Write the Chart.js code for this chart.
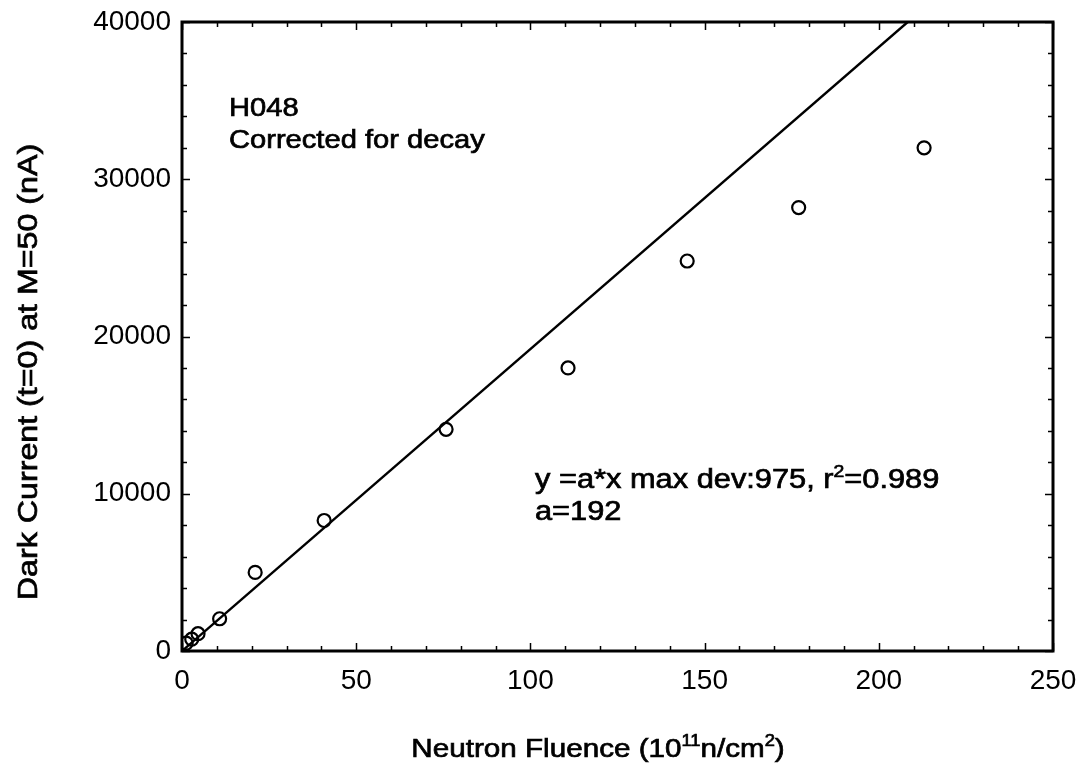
<!DOCTYPE html>
<html><head><meta charset="utf-8">
<script src="https://cdn.jsdelivr.net/npm/chart.js@4"></script>
<style>html,body{margin:0;padding:0;background:#fff;}</style>
</head><body>
<canvas id="c" width="1089" height="778" style="display:block"></canvas>
<script>
// ---- data ----
const fluence     = [1.2, 2.8, 4.6, 10.8, 21, 40.8, 75.8, 110.8, 145, 177, 213];
const darkCurrent = [500, 750, 1100, 2050, 5000, 8300, 14100, 18000, 24800, 28200, 32000];
const fitX = [0, 208.3];      // y = a*x, a = 192
const fitY = [0, 40000];
const xTickValues = [0, 50, 100, 150, 200, 250];
const yTickValues = [0, 10000, 20000, 30000, 40000];
const xMinorStep = 10;
const yMinorStep = 2000;
const xTitle = [{t:'Neutron Fluence (10'},{t:'11',sup:true},{t:'n/cm'},{t:'2',sup:true},{t:')'}];
const yTitle = [{t:'Dark Current (t=0) at M=50 (nA)'}];
const note1 = [[{t:'H048'}],[{t:'Corrected for decay'}]];
const note2 = [[{t:'y =a*x max dev:975, r'},{t:'2',sup:true},{t:'=0.989'}],[{t:'a=192'}]];

const FONT = '"Liberation Sans", Arial, sans-serif';

function drawRich(ctx, segs, x, y, size, sx) {
  ctx.save();
  ctx.translate(x, y);
  ctx.scale(sx, 1);
  ctx.fillStyle = '#000';
  ctx.strokeStyle = '#000';
  ctx.lineWidth = 0.7;
  ctx.textBaseline = 'alphabetic';
  ctx.textAlign = 'left';
  let cx = 0;
  for (const s of segs) {
    const fs = s.sup ? Math.round(size * 0.62) : size;
    ctx.font = fs + 'px ' + FONT;
    const yy = s.sup ? -size * 0.42 : 0;
    ctx.fillText(s.t, cx, yy);
    ctx.strokeText(s.t, cx, yy);
    cx += ctx.measureText(s.t).width;
  }
  ctx.restore();
  return cx * sx;
}
function richWidth(ctx, segs, size, sx) {
  let w = 0;
  for (const s of segs) {
    const fs = s.sup ? Math.round(size * 0.62) : size;
    ctx.font = fs + 'px ' + FONT;
    w += ctx.measureText(s.t).width;
  }
  return w * sx;
}

const framePlugin = {
  id: 'frame',
  afterDatasetsDraw(chart) {
    const {ctx, chartArea: a, scales: {x, y}} = chart;
    ctx.save();
    ctx.strokeStyle = '#000';
    ctx.lineWidth = 1.5;
    ctx.beginPath();
    for (let v = x.min; v <= x.max + 1e-9; v += xMinorStep) {
      const px = Math.round(x.getPixelForValue(v)) + 0.5;
      const L = (v % 50 === 0) ? 8 : 5;
      ctx.moveTo(px, a.bottom); ctx.lineTo(px, a.bottom - L);
      ctx.moveTo(px, a.top); ctx.lineTo(px, a.top + L);
    }
    for (let v = y.min; v <= y.max + 1e-9; v += yMinorStep) {
      const py = Math.round(y.getPixelForValue(v)) + 0.5;
      const L = (v % 10000 === 0) ? 8 : 5;
      ctx.moveTo(a.left, py); ctx.lineTo(a.left + L, py);
      ctx.moveTo(a.right, py); ctx.lineTo(a.right - L, py);
    }
    ctx.stroke();
    ctx.lineWidth = 3;
    ctx.strokeRect(a.left, a.top, a.right - a.left, a.bottom - a.top);
    ctx.restore();
  },
  afterDraw(chart) {
    const ctx = chart.ctx;
    const SX = 1.12;
    // annotations
    drawRich(ctx, note1[0], 229, 116, 26, SX);
    drawRich(ctx, note1[1], 229, 148, 26, SX);
    drawRich(ctx, note2[0], 535, 488, 27, 1.14);
    drawRich(ctx, note2[1], 535, 520, 27, 1.14);
    // x title
    const wx = richWidth(ctx, xTitle, 26, 1.14);
    drawRich(ctx, xTitle, 598 - wx / 2, 757, 26, 1.14);
    // y title
    ctx.save();
    ctx.translate(37, 372);
    ctx.rotate(-Math.PI / 2);
    const wy = richWidth(ctx, yTitle, 28, 1.15);
    drawRich(ctx, yTitle, -wy / 2, 0, 28, 1.15);
    ctx.restore();
  }
};

new Chart(document.getElementById('c'), {
  type: 'scatter',
  data: {
    datasets: [
      {
        label: 'fit',
        data: fitX.map((v, i) => ({x: v, y: fitY[i]})),
        showLine: true,
        borderColor: '#000',
        borderWidth: 2.4,
        pointRadius: 0,
        fill: false,
        order: 2
      },
      {
        label: 'data',
        data: fluence.map((v, i) => ({x: v, y: darkCurrent[i]})),
        pointStyle: 'circle',
        pointRadius: 6.5,
        borderWidth: 2.2,
        borderColor: '#000',
        backgroundColor: 'rgba(0,0,0,0)',
        order: 1
      }
    ]
  },
  options: {
    responsive: false,
    animation: false,
    devicePixelRatio: 1,
    layout: {padding: {top: 22, right: 36, left: 0, bottom: 0}},
    plugins: {legend: {display: false}, tooltip: {enabled: false}, title: {display: false}},
    scales: {
      x: {
        type: 'linear', min: 0, max: 250,
        afterBuildTicks: s => { s.ticks = xTickValues.map(v => ({value: v})); },
        afterFit: s => { s.height = 127; s.paddingLeft = 0; s.paddingRight = 0; },
        grid: {display: false, drawTicks: false},
        border: {display: false},
        ticks: {color: '#000', font: {family: FONT, size: 28}, padding: 13, maxRotation: 0, autoSkip: false}
      },
      y: {
        type: 'linear', min: 0, max: 40000,
        afterBuildTicks: s => { s.ticks = yTickValues.map(v => ({value: v})); },
        afterFit: s => { s.width = 182; s.paddingTop = 0; s.paddingBottom = 0; },
        grid: {display: false, drawTicks: false},
        border: {display: false},
        ticks: {color: '#000', font: {family: FONT, size: 28}, padding: 11, autoSkip: false,
                callback: v => String(v)}
      }
    }
  },
  plugins: [framePlugin]
});
</script>
</body></html>
